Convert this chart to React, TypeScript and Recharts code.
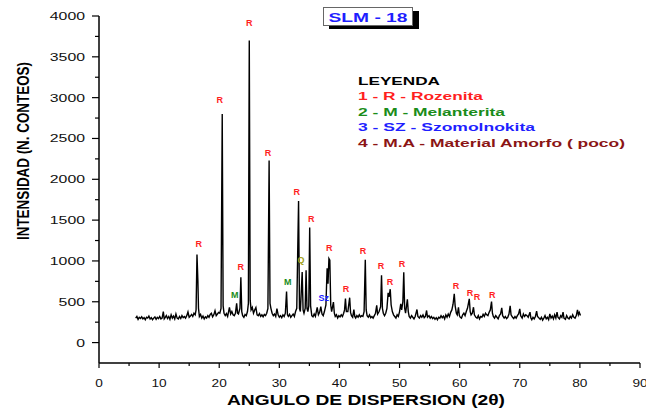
import { ComposedChart, Line, Scatter, XAxis, YAxis } from "recharts";

// diffractogram, 2theta vs counts
const scanLow: [number, number][] = [
  [6.1, 300], [6.3, 320], [6.5, 285], [6.7, 310], [6.9, 295], [7.1, 315], [7.3, 290],
  [7.5, 305], [7.7, 280], [7.9, 310], [8.1, 300], [8.3, 325], [8.5, 290], [8.7, 305],
  [8.9, 280], [9.1, 300], [9.3, 315], [9.5, 285], [9.7, 310], [9.9, 295], [10.1, 320],
  [10.3, 290], [10.5, 300], [10.7, 380], [10.85, 290], [11.0, 305], [11.2, 330], [11.4, 295],
  [11.6, 320], [11.8, 285], [12.0, 340], [12.2, 300], [12.4, 325], [12.6, 290], [12.8, 350],
  [13.0, 300], [13.2, 290], [13.4, 320], [13.6, 295], [13.8, 330], [14.0, 305], [14.2, 320],
  [14.4, 300], [14.6, 330], [14.8, 375], [15.0, 310], [15.2, 325], [15.4, 345], [15.6, 320],
  [15.8, 360], [16.0, 340], [16.15, 400], [16.3, 1080], [16.45, 760], [16.55, 420], [16.7, 320],
  [16.9, 345], [17.1, 300], [17.3, 325], [17.5, 290], [17.7, 315], [17.9, 300], [18.1, 330],
  [18.3, 310], [18.5, 345], [18.7, 360], [18.9, 315], [19.1, 340], [19.3, 390], [19.5, 330],
  [19.7, 350], [19.9, 370],
];

const scanMid: [number, number][] = [
  [20.1, 360], [20.3, 420], [20.5, 2800], [20.65, 450], [20.8, 360], [21.0, 330], [21.2, 355],
  [21.4, 320], [21.7, 430], [21.9, 350], [22.1, 380], [22.3, 340], [22.5, 330], [22.7, 360],
  [22.9, 480], [23.05, 360], [23.2, 350], [23.45, 420], [23.6, 800], [23.75, 380], [23.9, 330],
  [24.1, 310], [24.3, 345], [24.5, 330], [24.7, 380], [24.85, 480], [25.0, 3700], [25.15, 520],
  [25.3, 400], [25.5, 430], [25.7, 360], [25.9, 400], [26.1, 430], [26.3, 340], [26.5, 330],
  [26.7, 355], [26.9, 320], [27.1, 340], [27.3, 315], [27.5, 345], [27.7, 330], [27.9, 360],
  [28.1, 420], [28.3, 2230], [28.45, 480], [28.6, 420], [28.8, 360], [29.0, 330], [29.2, 350],
  [29.4, 320], [29.6, 415], [29.8, 340], [30.0, 310], [30.2, 330], [30.4, 305], [30.6, 340],
  [30.8, 320], [31.0, 360], [31.2, 625], [31.35, 340], [31.5, 320], [31.7, 345], [31.9, 310],
  [32.1, 330], [32.3, 350], [32.5, 320], [32.7, 380], [32.9, 420], [33.2, 1735], [33.35, 420],
  [33.5, 380], [33.8, 865], [33.95, 400], [34.1, 360], [34.3, 420], [34.45, 885], [34.6, 420],
  [34.75, 380], [34.9, 450], [35.05, 1410], [35.2, 450], [35.4, 330], [35.6, 315], [35.8, 350],
  [36.0, 320], [36.3, 430], [36.5, 340], [36.7, 370], [36.9, 440], [37.1, 350], [37.3, 330],
  [37.5, 380], [37.75, 460], [37.95, 910], [38.1, 720], [38.25, 1030], [38.4, 1010], [38.55, 460],
  [38.7, 380], [39.0, 495], [39.15, 360], [39.3, 320], [39.5, 340], [39.7, 300], [39.9, 330],
];

const scanHigh: [number, number][] = [
  [40.1, 315], [40.3, 340], [40.5, 320], [40.7, 360], [40.85, 400], [41.0, 540], [41.15, 380],
  [41.4, 380], [41.7, 550], [41.85, 370], [42.0, 330], [42.2, 310], [42.4, 405], [42.55, 320],
  [42.7, 300], [42.9, 330], [43.1, 310], [43.3, 340], [43.5, 315], [43.7, 330], [43.9, 320],
  [44.1, 380], [44.3, 1015], [44.45, 400], [44.6, 330], [44.8, 310], [45.0, 340], [45.2, 305],
  [45.4, 320], [45.6, 300], [45.8, 330], [46.0, 360], [46.2, 455], [46.35, 350], [46.6, 380],
  [46.85, 440], [47.0, 826], [47.15, 420], [47.3, 360], [47.5, 330], [47.7, 360], [47.9, 420],
  [48.1, 610], [48.25, 560], [48.45, 654], [48.6, 460], [48.8, 380], [49.0, 340], [49.2, 320],
  [49.4, 300], [49.6, 340], [49.8, 320], [50.0, 380], [50.2, 475], [50.35, 400], [50.55, 500],
  [50.7, 860], [50.85, 420], [51.0, 360], [51.3, 530], [51.45, 380], [51.6, 320], [51.8, 300],
  [52.0, 330], [52.2, 310], [52.4, 290], [52.6, 320], [52.9, 405], [53.05, 320], [53.3, 300],
  [53.5, 330], [53.7, 310], [53.9, 340], [54.1, 305], [54.3, 320], [54.5, 393], [54.65, 310],
  [54.9, 330], [55.1, 300], [55.3, 320], [55.5, 295], [55.7, 310], [55.9, 285], [56.1, 305],
  [56.3, 280], [56.5, 310], [56.7, 300], [56.9, 330], [57.1, 305], [57.3, 325], [57.5, 290],
  [57.7, 340], [57.9, 310], [58.1, 350], [58.3, 320], [58.5, 370], [58.7, 400], [58.9, 470],
  [59.1, 597], [59.25, 450], [59.45, 360], [59.6, 340], [59.8, 433], [59.95, 330],
];

const scanTail: [number, number][] = [
  [60.1, 310], [60.3, 300], [60.5, 340], [60.7, 360], [60.9, 330], [61.1, 380], [61.3, 420],
  [61.6, 536], [61.75, 380], [61.9, 340], [62.1, 360], [62.3, 433], [62.45, 340], [62.7, 310],
  [62.9, 300], [63.1, 330], [63.3, 290], [63.5, 320], [63.7, 310], [63.9, 345], [64.1, 320],
  [64.3, 360], [64.5, 340], [64.7, 330], [64.9, 370], [65.1, 400], [65.3, 503], [65.45, 360],
  [65.6, 320], [65.8, 300], [66.0, 330], [66.2, 310], [66.4, 290], [66.6, 330], [66.8, 350],
  [67.0, 425], [67.15, 330], [67.4, 300], [67.6, 320], [67.8, 295], [68.0, 310], [68.2, 350],
  [68.4, 450], [68.55, 340], [68.8, 310], [69.0, 295], [69.2, 320], [69.4, 300], [69.6, 330],
  [69.8, 350], [70.0, 413], [70.15, 330], [70.4, 300], [70.6, 350], [70.8, 320], [71.0, 340],
  [71.2, 330], [71.4, 310], [71.7, 372], [71.85, 300], [72.0, 280], [72.2, 310], [72.4, 290],
  [72.6, 320], [72.8, 384], [72.95, 320], [73.2, 300], [73.4, 285], [73.6, 310], [73.8, 275],
  [74.0, 300], [74.2, 330], [74.4, 290], [74.6, 310], [74.8, 280], [75.0, 350], [75.2, 300],
  [75.4, 325], [75.6, 290], [75.8, 340], [76.0, 300], [76.2, 372], [76.35, 310], [76.6, 290],
  [76.8, 330], [77.0, 310], [77.2, 372], [77.35, 300], [77.6, 285], [77.8, 330], [78.0, 300],
  [78.2, 290], [78.4, 320], [78.6, 300], [78.8, 340], [79.0, 310], [79.2, 300], [79.4, 330],
  [79.6, 400], [79.75, 340], [79.9, 370], [80.1, 331],
];

// peak identifications: angle, counts where the tag sits, phase
const peakTags: [number, number, string][] = [
  [16.6, 1215, "R"], [20.1, 2980, "R"], [25.0, 3915, "R"], [22.6, 590, "M"], [23.6, 930, "R"],
  [28.1, 2330, "R"], [32.9, 1850, "R"], [35.3, 1520, "R"], [33.6, 1020, "Q"], [31.4, 750, "M"],
  [37.4, 550, "Sz"], [38.3, 1165, "R"], [41.1, 660, "R"], [43.9, 1130, "R"], [46.9, 945, "R"],
  [48.4, 750, "R"], [50.4, 970, "R"], [59.4, 700, "R"], [61.7, 615, "R"], [62.9, 565, "R"],
  [65.4, 590, "R"],
];

const legendLines = [
  "1 - R - Rozenita",
  "2 - M - Melanterita",
  "3 - SZ - Szomolnokita",
  "4 - M.A - Material Amorfo ( poco)",
];

const xTicks = [0, 5, 10, 15, 20, 25, 30, 35, 40, 45, 50, 55, 60, 65, 70, 75, 80, 85, 90];
const yTicks = [0, 250, 500, 750, 1000, 1250, 1500, 1750, 2000, 2250, 2500, 2750, 3000, 3250, 3500, 3750, 4000];

const scan = [...scanLow, ...scanMid, ...scanHigh, ...scanTail].map(([angle, counts]) => ({ angle, counts }));
const tags = peakTags.map(([angle, counts, phase]) => ({ angle, counts, phase }));

const FONT = "'Liberation Sans', Arial, sans-serif";
const phaseColor: Record<string, string> = { R: "#ff1f1f", M: "#1a8c1a", Q: "#a3a31a", Sz: "#1f1fff" };
const legendColors = ["#ff1f1f", "#1a8c1a", "#1f1fff", "#8b1515"];

const XTick = (props: any) => {
  const { x, y, payload } = props;
  const major = payload.value % 10 === 0;
  const s = String(payload.value);
  return (
    <g>
      <line x1={x} x2={x} y1={y} y2={y + (major ? 5 : 3)} stroke="#000" strokeWidth={1.2} />
      {major && (
        <text x={x} y={y + 24} textAnchor="middle" fontSize={11} fontFamily={FONT} fill="#111"
          textLength={s.length * 7.6} lengthAdjust="spacingAndGlyphs">{s}</text>
      )}
    </g>
  );
};

const YTick = (props: any) => {
  const { x, y, payload } = props;
  const major = payload.value % 500 === 0;
  const s = String(payload.value);
  return (
    <g>
      <line x1={x - (major ? 7 : 4)} x2={x} y1={y} y2={y} stroke="#000" strokeWidth={1.2} />
      {major && (
        <text x={85} y={y + 4} textAnchor="end" fontSize={10.5} fontFamily={FONT} fill="#111"
          textLength={s.length * 8.8} lengthAdjust="spacingAndGlyphs">{s}</text>
      )}
    </g>
  );
};

const TagShape = (props: any) => {
  const { cx, cy, payload } = props;
  return (
    <text x={cx} y={cy + 3.5} textAnchor="middle" fontSize={9} fontWeight="bold" fontFamily={FONT}
      fill={phaseColor[payload.phase]}>{payload.phase}</text>
  );
};

export default function App() {
  return (
    <div style={{ position: "absolute", left: 0, top: 0, width: 646, height: 420, background: "#fff" }}>
      <ComposedChart width={646} height={420} data={scan} margin={{ top: 16, right: 6, bottom: 27, left: 0 }}>
        <XAxis dataKey="angle" type="number" domain={[0, 90]} ticks={xTicks} interval={0} height={30}
          tickLine={false} tickSize={0} tickMargin={0} tick={<XTick />}
          axisLine={{ stroke: "#000", strokeWidth: 1.5 }} allowDataOverflow />
        <YAxis type="number" domain={[-250, 4000]} ticks={yTicks} interval={0} width={99}
          tickLine={false} tickSize={0} tickMargin={0} tick={<YTick />}
          axisLine={{ stroke: "#000", strokeWidth: 1.5 }} allowDataOverflow />
        <Line dataKey="counts" type="linear" stroke="#000" strokeWidth={1.4} dot={false}
          isAnimationActive={false} />
        <Scatter data={tags} dataKey="counts" shape={<TagShape />} isAnimationActive={false} />
      </ComposedChart>
      <svg width={646} height={420} style={{ position: "absolute", left: 0, top: 0, pointerEvents: "none" }}>
        <rect x={329} y={11} width={90} height={18} fill="#000" />
        <rect x={323.5} y={7.5} width={89} height={18} fill="#fff" stroke="#666" strokeWidth={1} />
        <text x={368} y={21.5} textAnchor="middle" fontSize={13} fontWeight="bold" fontFamily={FONT}
          fill="#1f1fff" textLength={79} lengthAdjust="spacingAndGlyphs">SLM - 18</text>
        <text x={358} y={85} fontSize={11.5} fontWeight="bold" fontFamily={FONT} fill="#000"
          textLength={82} lengthAdjust="spacingAndGlyphs">LEYENDA</text>
        {legendLines.map((t, i) => (
          <text key={t} x={358} y={100 + i * 15.5} fontSize={11.5} fontWeight="bold" fontFamily={FONT}
            fill={legendColors[i]} textLength={[125, 147, 177, 267][i]} lengthAdjust="spacingAndGlyphs">{t}</text>
        ))}
        <text x={366} y={405} textAnchor="middle" fontSize={14} fontWeight="bold" fontFamily={FONT} fill="#000"
          textLength={278} lengthAdjust="spacingAndGlyphs">ANGULO DE DISPERSION (2θ)</text>
        <text transform="translate(29,151) rotate(-90)" textAnchor="middle" fontSize={16} fontWeight="bold"
          fontFamily={FONT} fill="#000" textLength={178} lengthAdjust="spacingAndGlyphs">INTENSIDAD (N. CONTEOS)</text>
      </svg>
    </div>
  );
}
